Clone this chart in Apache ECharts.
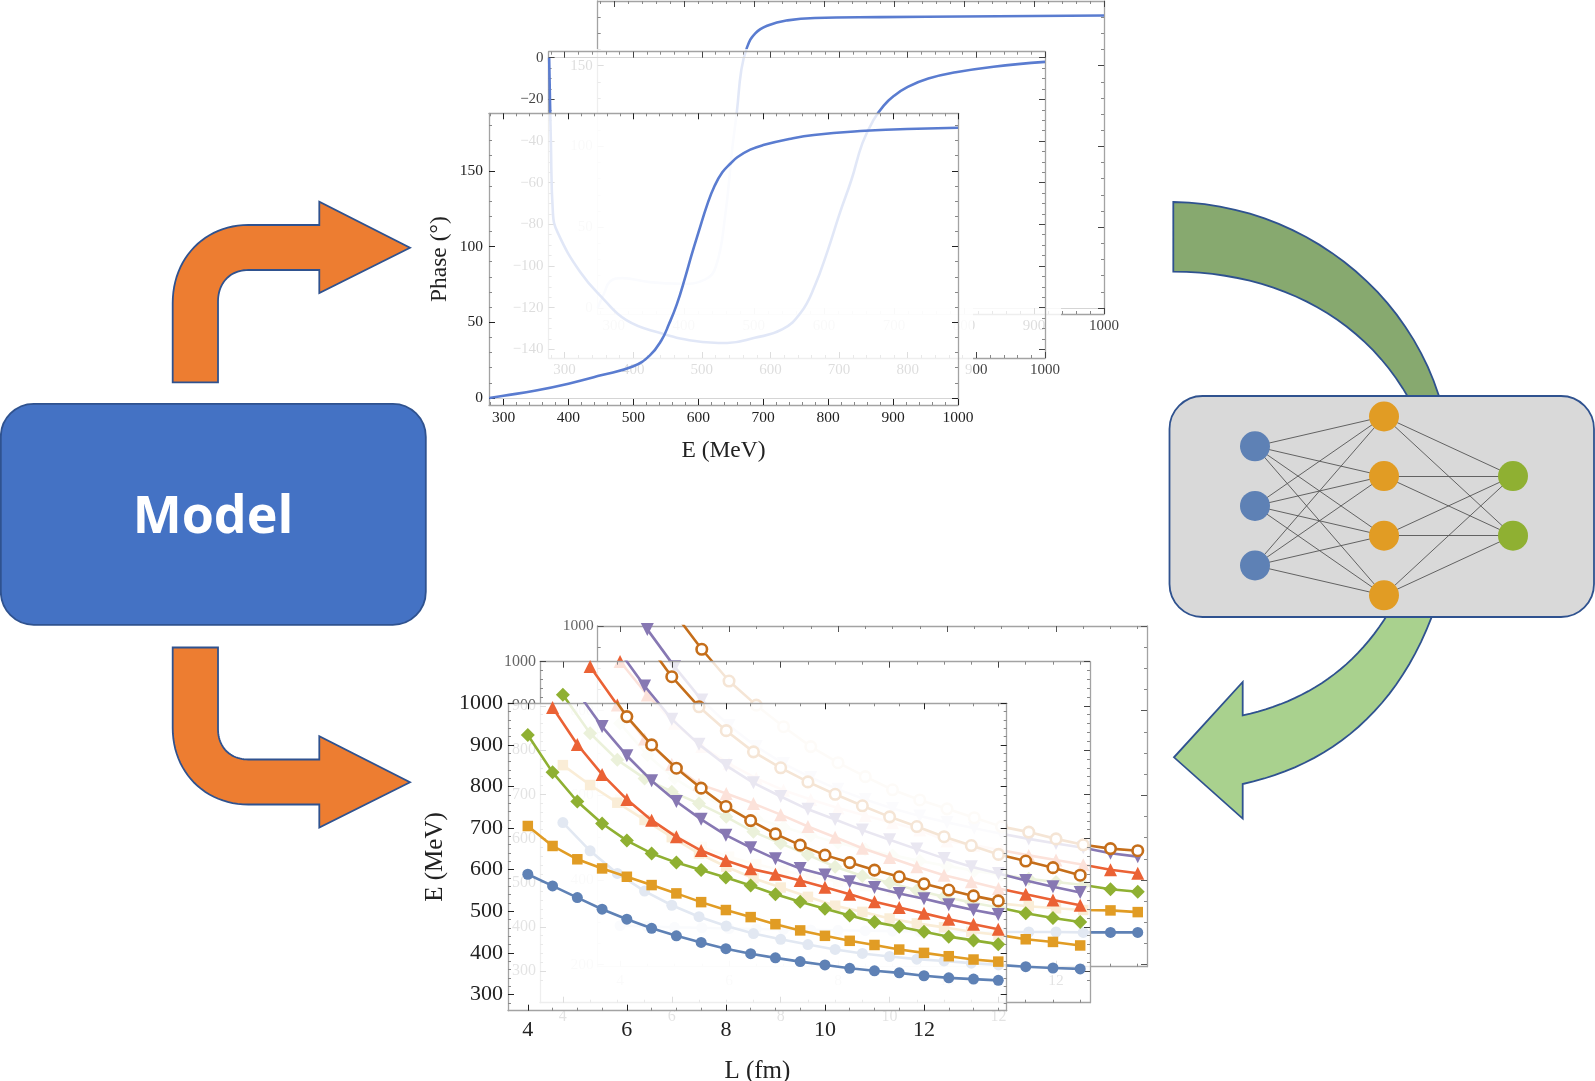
<!DOCTYPE html>
<html><head><meta charset="utf-8">
<style>html,body{margin:0;padding:0;background:#fff}#c{width:1595px;height:1081px}</style>
<script src="https://cdn.jsdelivr.net/npm/echarts@6/dist/echarts.min.js"></script>
</head><body><div id="c"></div>
<script>
// ---------- phase-shift panels: [E (MeV), phase (deg)]
const phaseFront = [[278,0],[300,1.5],[350,5],[400,9.5],[450,15],[500,21],[525,28],[543,38],[555,49],[567,62],[580,80],[590,95],[600,109],[614,128],[625,140],[637,149],[650,155],[660,159],[680,164],[700,167],[740,171],[778,173.7],[857,176.5],[900,177.3],[1000,178.5]];
const phaseMiddle = [[277.5,0],[280,-40],[283,-74.6],[290,-84],[323,-103],[357,-116],[390,-126],[437,-132],[490,-136],[537,-137],[577,-134.5],[617,-130.5],[644,-122.5],[664,-110],[684,-92],[701,-74.6],[718,-58.6],[734,-41],[750,-30],[765,-23],[780,-18.3],[800,-14],[830,-10],[870,-7],[925,-4.3],[1000,-2]];
const phaseBack = [[277,0],[286,9],[295,16.5],[312,18.5],[351,16],[397,15],[430,17.6],[446,26],[459,57],[469,98],[476,122.6],[482,147],[490,161],[502,170],[521,175],[548,178],[587,179.5],[679,180],[1000,181]];
const phaseXTicks = [300,400,500,600,700,800,900,1000];
const phaseXMinor = [280,320,340,360,380,420,440,460,480,520,540,560,580,620,640,660,680,720,740,760,780,820,840,860,880,920,940,960,980];
const phaseFrontYTicks = [0,50,100,150];
const phaseFrontYMinor = [10,20,30,40,60,70,80,90,110,120,130,140,160,170,180];
const phaseMiddleYTicks = [0,-20,-40,-60,-80,-100,-120,-140];
const phaseMiddleYMinor = [-5,-10,-15,-25,-30,-35,-45,-50,-55,-65,-70,-75,-85,-90,-95,-105,-110,-115,-125,-130,-135];
// ---------- finite-volume panels: energy (MeV) at each L (fm)
const L = [4,4.5,5,5.5,6,6.5,7,7.5,8,8.5,9,9.5,10,10.5,11,11.5,12,12.5,13,13.5];
const frontBlue   = [589,561,533,505,481,459,441,425,410,398,388,379,371,363,357,352,345,340,337,334];
const frontOrange = [705,657,625,603,583,563,543,522,503,486,469,454,441,429,419,408,400,392,384,379];
const frontGreen  = [924,834,764,711,670,639,617,599,581,562,541,523,506,490,474,463,451,439,430,421];
const frontRed    = [null,990,901,829,769,719,679,646,622,602,589,574,558,541,523,509,495,481,469,457];
const frontPurple = [null,null,1027,944,874,814,764,721,683,653,626,603,587,571,557,543,530,516,503,492];
const frontBrown  = [null,null,null,1053,968,900,844,796,752,718,686,659,635,617,599,583,566,551,537,525];
const midBlue   = [636,572,521,481,449,423,402,385,372,360,349,340,333,327,323,318,314,310,307,305];
const midOrange = [766,721,681,642,603,566,536,510,489,468,448,434,419,408,399,389,382,372,366,358];
const midGreen  = [925,838,778,736,706,679,649,615,589,563,536,515,500,483,468,455,444,431,420,411];
const midRed    = [null,989,902,825,768,723,702,679,654,627,603,578,557,536,517,502,487,474,461,449];
const midPurple = [null,null,1030,945,870,813,765,726,695,666,643,619,597,576,555,536,521,505,491,478];
const midBrown  = [null,null,null,1050,966,898,844,796,760,728,700,674,649,627,604,584,564,549,534,517];
const backBlue   = [292,290,288,287,285,284,283,282,281,280,279,278,278,277,277,277,277,276,276,276];
const backOrange = [590,540,505,478,455,437,422,408,396,385,375,366,358,351,344,338,333,329,328,324];
const backGreen  = [770,695,640,600,570,545,525,505,488,472,458,445,433,422,412,403,395,388,378,372];
const backRed    = [916,837,770,715,675,640,612,590,570,552,535,518,492,482,470,458,447,436,424,416];
const backPurple = [null,992,904,825,765,715,675,642,614,590,569,551,536,522,509,497,486,476,463,455];
const backBrown  = [null,null,1030,945,870,813,762,715,677,644,613,589,568,547,526,513,497,483,474,469];
const lengthTicks = [4,6,8,10,12];
const lengthMinor = [4.5,5,5.5,6.5,7,7.5,8.5,9,9.5,10.5,11,11.5,12.5,13,13.5];
const energyTicks = [300,400,500,600,700,800,900,1000];
const energyMinor = [280,320,340,360,380,420,440,460,480,520,540,560,580,620,640,660,680,720,740,760,780,820,840,860,880,920,940,960,980];
const energyBackTicks = [200,400,600,800,1000];
const energyBackMinor = [250,300,350,450,500,550,650,700,750,850,900,950];
// ---------- network layers
const inputLayer = [0.5,1.5,2.5];
const hiddenLayer = [0,1,2,3];
const outputLayer = [1,2];
const boxText = 'Model';

const serif = 'Liberation Serif';
const FRAME = '#a3a3a3';
const grids=[], xAxes=[], yAxes=[], series=[], graphics=[];
const plain = v => String(v).replace('-','\u2212');

function panel(p){
  const g = grids.length;
  grids.push({left:p.l, top:p.t, width:p.w, height:p.h, containLabel:false, outerBoundsMode:'none', show:false});
  const xi = xAxes.length, yi = yAxes.length;
  function ax(dim, cfg){
    const base = {gridIndex:g, type:'value', z:p.z, silent:true, splitLine:{show:false},
      min:dim==='x'?p.xr[0]:p.yr[0], max:dim==='x'?p.xr[1]:p.yr[1],
      axisLine:{show:!!cfg.line, onZero:false, lineStyle:{color:FRAME,width:1.3}},
      axisTick:{show:true, inside:true, length:cfg.len, customValues:cfg.ticks, lineStyle:{color:cfg.tc,width:1}},
      axisLabel:{show:false}};
    Object.assign(base, cfg.extra||{});
    (dim==='x'?xAxes:yAxes).push(base);
  }
  const lab = (fs,m,ticks)=>({show:true, customValues:ticks, formatter:plain, fontFamily:serif, fontSize:fs, color:p.color, margin:m, hideOverlap:false, showMinLabel:true, showMaxLabel:true});
  ax('x',{line:1,len:p.big,ticks:p.xt,tc:p.tick,extra:Object.assign({position:'bottom',axisLabel:lab(p.fx,p.mx,p.xt)},
     p.xname?{name:p.xname,nameLocation:'middle',nameGap:p.xgap,nameTextStyle:{fontFamily:serif,fontSize:p.nf,color:'#222'}}:{})});
  ax('y',{line:1,len:p.big,ticks:p.yt,tc:p.tick,extra:Object.assign({position:'left',axisLabel:lab(p.fy,p.my,p.yt)},
     p.yname?{name:p.yname,nameLocation:'middle',nameGap:p.ygap,nameRotate:90,nameTextStyle:{fontFamily:serif,fontSize:p.nf,color:'#222'}}:{})});
  ax('x',{line:1,len:p.big,ticks:p.xt,tc:p.tick,extra:{position:'top'}});
  ax('y',{line:1,len:p.big,ticks:p.yt,tc:p.tick,extra:{position:'right'}});
  ax('x',{len:3,ticks:p.xm,tc:'#888',extra:{position:'bottom'}});
  ax('y',{len:3,ticks:p.ym,tc:'#888',extra:{position:'left'}});
  ax('x',{len:3,ticks:p.xm,tc:'#888',extra:{position:'top'}});
  ax('y',{len:3,ticks:p.ym,tc:'#888',extra:{position:'right'}});
  return {xi, yi};
}
function curve(p, ax, data){
  series.push({type:'line', xAxisIndex:ax.xi, yAxisIndex:ax.yi, z:p.z+1, data, showSymbol:false, smooth:0.45,
    lineStyle:{color:'#5a7cd0',width:2.6}, silent:true, animation:false,
    markLine:{z:p.z, silent:true, symbol:'none', animation:false, label:{show:false},
      lineStyle:{color:'#d5d5d5',width:1.2,type:'solid'}, data:[{yAxis:0}]}});
}
const STY = {
  blue:{c:'#5e81b5',s:'circle',z:11},
  orange:{c:'#e19c24',s:'rect',z:10.5},
  green:{c:'#8fb032',s:'diamond',z:14},
  red:{c:'#eb6235',s:'triangle',z:13},
  purple:{c:'#8778b3',s:'triangle',r:180,z:13},
  brown:{c:'#c56e1a',s:'circle',z:10.5,open:true}
};
function energy(p, ax, name, vals){
  const st = STY[name];
  series.push({type:'line', xAxisIndex:ax.xi, yAxisIndex:ax.yi, z:p.z+1, silent:true, animation:false,
    data:L.map((v,i)=>[v,vals[i]]), showSymbol:true, showAllSymbol:true, symbol:st.s, symbolSize:st.z, symbolRotate:st.r||0,
    lineStyle:{color:st.c,width:2.6},
    itemStyle: st.open?{color:'#fff',borderColor:st.c,borderWidth:2.6}:{color:st.c}});
}
function veil(x,y,w,h,z){ graphics.push({type:'rect',silent:true,z,shape:{x,y,width:w,height:h},style:{fill:'rgba(255,255,255,0.82)'}}); }

// sample an M/L/C outline into polygon vertices
function outline(d){
  const nums = d.match(/[MLCZ]|-?[\d.]+/g), pts=[]; let i=0, cur=[0,0];
  while(i<nums.length){
    const c=nums[i++];
    if(c==='M'||c==='L'){cur=[+nums[i++],+nums[i++]];pts.push(cur);}
    else if(c==='C'){
      const a=[+nums[i++],+nums[i++]],b=[+nums[i++],+nums[i++]],e=[+nums[i++],+nums[i++]];
      for(let k=1;k<=24;k++){const t=k/24,u=1-t;
        pts.push([u*u*u*cur[0]+3*u*u*t*a[0]+3*u*t*t*b[0]+t*t*t*e[0],u*u*u*cur[1]+3*u*u*t*a[1]+3*u*t*t*b[1]+t*t*t*e[1]]);}
      cur=e;
    }
  }
  return pts;
}
// ---- diagram shapes behind everything
const edge = '#2f528f';
function shape(d,fill,lw,z){ graphics.push({type:'polygon',silent:true,z:z||1,shape:{points:outline(d)},style:{fill,stroke:edge,lineWidth:lw||1.8}}); }
shape('M172.7,382.3 L172.7,303 C172.7,258 205,225 248.3,225 L319.3,225 L319.3,201.8 L410,247.7 L319.3,293 L319.3,270 L248.3,270 C230,270 218,283 218,301.5 L218,382.3 Z','#ed7d31');
shape('M172.7,647.5 L172.7,728 C172.7,772 205,804.5 248.3,804.5 L319.3,804.5 L319.3,827.6 L410,782.2 L319.3,736.3 L319.3,759.5 L248.3,759.5 C230,759.5 218,747 218,729 L218,647.5 Z','#ed7d31');
shape('M1173.3,202 C1300,204 1412,290 1443,410 L1415,410 C1370,320 1280,272 1173.3,271.6 Z','#87a96f');
shape('M1436,605 C1400,710 1330,765 1242.7,784 L1242.7,818.6 L1174,757.3 L1242.7,682 L1242.7,715.3 C1305,702 1358,668 1393,605 Z','#a9d18e');
graphics.push({type:'rect',silent:true,z:2,shape:{x:1169.5,y:396,width:424.5,height:221,r:33},style:{fill:'#d9d9d9',stroke:edge,lineWidth:1.8}});
graphics.push({type:'rect',silent:true,z:2,shape:{x:0.8,y:403.8,width:425,height:221,r:33},style:{fill:'#4472c4',stroke:edge,lineWidth:1.8}});
graphics.push({type:'text',silent:true,z:3,style:{text:boxText,x:213,y:518,textAlign:'center',textVerticalAlign:'middle',fill:'#fff',font:'700 52px "Open Sans"'}});

// ---- phase stack, back to front
const xr=[277,1000];
let p;
p={l:597.7,t:1,w:506.3,h:313,xr,yr:[-3.7,190],xt:phaseXTicks,xm:phaseXMinor,yt:phaseFrontYTicks,ym:phaseFrontYMinor,big:6,tick:'#444',fx:15,fy:15,mx:5,my:5,color:'#444',z:10};
curve(p,panel(p),phaseBack);
veil(500,49,561,352,20);
p={l:548.6,t:51.7,w:496.4,h:306.3,xr:[276.7,1000],yr:[-144.2,2.9],xt:phaseXTicks,xm:phaseXMinor,yt:phaseMiddleYTicks,ym:phaseMiddleYMinor,big:6,tick:'#444',fx:15,fy:15,mx:5,my:5,color:'#444',z:21};
curve(p,panel(p),phaseMiddle);
veil(428,113,545,350,30);
p={l:489,t:113.3,w:469,h:291.7,xr:[277.6,1000],yr:[-4.6,188],xt:phaseXTicks,xm:phaseXMinor,yt:phaseFrontYTicks,ym:phaseFrontYMinor,big:6,tick:'#222',fx:15.5,fy:15.5,mx:5,my:6,color:'#222',z:31,
   xname:'E (MeV)',xgap:34,yname:'Phase (°)',ygap:37,nf:23.5};
curve(p,panel(p),phaseFront);

// ---- energy stack, back to front
const names=['blue','orange','green','red','purple','brown'];
p={l:597.7,t:626,w:549.3,h:340.7,xr:[3.59,13.67],yr:[195,1000],xt:lengthTicks,xm:lengthMinor,yt:energyBackTicks,ym:energyBackMinor,big:6,tick:'#555',fx:15.5,fy:15.5,mx:6,my:4,color:'#666',z:10};
let a=panel(p);
[backBlue,backOrange,backGreen,backRed,backPurple,backBrown].forEach((v,i)=>energy(p,a,names[i],v));
veil(490,661.7,600,380,20);
p={l:540,t:661.7,w:550,h:341,xr:[3.58,13.68],yr:[228.5,1000],xt:lengthTicks,xm:lengthMinor,yt:energyTicks,ym:energyMinor,big:6,tick:'#444',fx:16,fy:16,mx:6,my:4,color:'#666',z:21};
a=panel(p);
[midBlue,midOrange,midGreen,midRed,midPurple,midBrown].forEach((v,i)=>energy(p,a,names[i],v));
veil(428,703.3,579,377.7,30);
p={l:508,t:703.3,w:498.7,h:307.4,xr:[3.6,13.67],yr:[261,1000],xt:lengthTicks,xm:lengthMinor,yt:energyTicks,ym:energyMinor,big:6,tick:'#222',fx:22,fy:22,mx:9,my:5,color:'#222',z:31,
   xname:'L (fm)',xgap:48,yname:'E (MeV)',ygap:60,nf:25};
a=panel(p);
[frontBlue,frontOrange,frontGreen,frontRed,frontPurple,frontBrown].forEach((v,i)=>energy(p,a,names[i],v));

// ---- neural network inside the grey box, through its own hidden axes
const netGrid = grids.length;
grids.push({left:1255,top:416.5,width:258,height:178.8,containLabel:false,outerBoundsMode:'none',show:false});
xAxes.push({gridIndex:netGrid,type:'value',min:0,max:2,show:false});
yAxes.push({gridIndex:netGrid,type:'value',min:0,max:3,inverse:true,show:false});
const nodes=[], links=[];
const layers=[[inputLayer,'#5e81b5'],[hiddenLayer,'#e19c24'],[outputLayer,'#8fb032']];
layers.forEach(([ys,col],k)=>ys.forEach(y=>nodes.push({name:k+'-'+y,value:[k,y],itemStyle:{color:col}})));
for(let k=0;k<2;k++) layers[k][0].forEach(a0=>layers[k+1][0].forEach(b0=>links.push({source:k+'-'+a0,target:(k+1)+'-'+b0})));
series.push({type:'graph',coordinateSystem:'cartesian2d',xAxisIndex:xAxes.length-1,yAxisIndex:yAxes.length-1,z:5,silent:true,animation:false,
  data:nodes,links,symbolSize:30,label:{show:false},lineStyle:{color:'#555',width:0.9,opacity:1,curveness:0}});

const chart = echarts.init(document.getElementById('c'),null,{renderer:'canvas'});
chart.setOption({animation:false,backgroundColor:'#fff',tooltip:{show:false},grid:grids,xAxis:xAxes,yAxis:yAxes,series,graphic:{elements:graphics}});
</script></body></html>
